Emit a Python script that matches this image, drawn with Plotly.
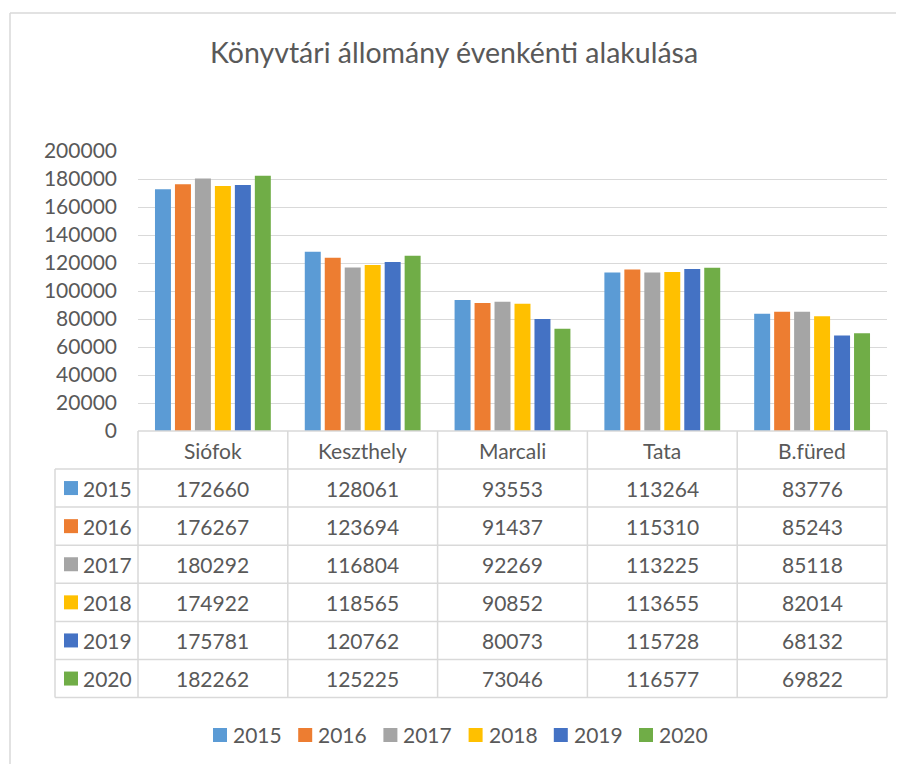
import plotly.graph_objects as go

# ---------------- data ----------------
categories = ["Siófok", "Keszthely", "Marcali", "Tata", "B.füred"]
years = ["2015", "2016", "2017", "2018", "2019", "2020"]
v2015 = [172660, 128061, 93553, 113264, 83776]
v2016 = [176267, 123694, 91437, 115310, 85243]
v2017 = [180292, 116804, 92269, 113225, 85118]
v2018 = [174922, 118565, 90852, 113655, 82014]
v2019 = [175781, 120762, 80073, 115728, 68132]
v2020 = [182262, 125225, 73046, 116577, 69822]
series = [v2015, v2016, v2017, v2018, v2019, v2020]
colors = ["#5B9BD5", "#ED7D31", "#A5A5A5", "#FFC000", "#4472C4", "#70AD47"]
y_ticks = list(range(0, 200001, 20000))
title = "Könyvtári állomány évenkénti alakulása"

# ---------------- layout constants ----------------
OFF = 8                      # page body margin
W, H = 904 - OFF, 764 - OFF
def s(p):
    return p - OFF

PL, PR, PT, PB = s(138), s(887), s(151), s(431)   # plot area
FONT = "Lato"
TXT = "#595959"
GRID = "#D9D9D9"
FS = 21
HEADER_H = 38.0
ROW_H = 38.1
ROWHDR_LEFT = s(55)
LEG_X0, LEG_PITCH, LEG_Y = s(213), 85.2, s(735)

pw = PR - PL
ph = PB - PT

def px2x(px):
    return (px - PL) / pw

def py2y(py):
    return (PB - py) / ph

fig = go.Figure()
x_idx = list(range(len(categories)))
for name, vals, col in zip(years, series, colors):
    fig.add_trace(go.Bar(
        x=x_idx, y=vals, name=name,
        marker=dict(color=col, line=dict(width=0)),
        hoverinfo="x+y+name",
    ))

shapes = []
annotations = []
line_style = dict(color=GRID, width=1.5)

ncat = len(categories)
table_bottom = PB + HEADER_H + ROW_H * len(years)
# horizontal lines
shapes.append(dict(type="line", xref="paper", yref="paper", x0=0, x1=1,
                   y0=py2y(PB), y1=py2y(PB), line=line_style))
for k in range(len(years) + 1):
    yy = PB + HEADER_H + ROW_H * k
    shapes.append(dict(type="line", xref="paper", yref="paper",
                       x0=px2x(ROWHDR_LEFT), x1=1, y0=py2y(yy), y1=py2y(yy),
                       line=line_style))
# vertical lines
shapes.append(dict(type="line", xref="paper", yref="paper",
                   x0=px2x(ROWHDR_LEFT), x1=px2x(ROWHDR_LEFT),
                   y0=py2y(PB + HEADER_H), y1=py2y(table_bottom), line=line_style))
for i in range(ncat + 1):
    xx = i / ncat
    shapes.append(dict(type="line", xref="paper", yref="paper", x0=xx, x1=xx,
                       y0=py2y(PB), y1=py2y(table_bottom), line=line_style))

# header labels
for i, c in enumerate(categories):
    annotations.append(dict(x=i, y=py2y(PB + HEADER_H / 2), xref="x", yref="paper",
                            text=c, showarrow=False, xanchor="center", yanchor="middle",
                            font=dict(family=FONT, size=FS, color=TXT)))
# rows
for k, (name, vals, col) in enumerate(zip(years, series, colors)):
    yc = PB + HEADER_H + ROW_H * k + ROW_H / 2
    shapes.append(dict(type="rect", xref="paper", yref="paper",
                       x0=px2x(s(64)), x1=px2x(s(78)), y0=py2y(yc - 7), y1=py2y(yc + 7),
                       fillcolor=col, line=dict(width=0)))
    annotations.append(dict(x=px2x(s(81)), y=py2y(yc), xref="paper", yref="paper",
                            text=name, showarrow=False, xanchor="left", yanchor="middle",
                            font=dict(family=FONT, size=FS, color=TXT)))
    for i, v in enumerate(vals):
        annotations.append(dict(x=i, y=py2y(yc), xref="x", yref="paper",
                                text=str(v), showarrow=False, xanchor="center",
                                yanchor="middle",
                                font=dict(family=FONT, size=FS, color=TXT)))

# legend (bottom, drawn as keys + labels)
for k, (name, col) in enumerate(zip(years, colors)):
    lx = LEG_X0 + LEG_PITCH * k
    shapes.append(dict(type="rect", xref="paper", yref="paper",
                       x0=px2x(lx), x1=px2x(lx + 14), y0=py2y(LEG_Y - 7),
                       y1=py2y(LEG_Y + 7), fillcolor=col, line=dict(width=0)))
    annotations.append(dict(x=px2x(lx + 18), y=py2y(LEG_Y), xref="paper", yref="paper",
                            text=name, showarrow=False, xanchor="left", yanchor="middle",
                            font=dict(family=FONT, size=FS, color=TXT)))

# chart border (left and top)
shapes.append(dict(type="line", xref="paper", yref="paper",
                   x0=px2x(s(10)), x1=px2x(s(10)), y0=py2y(s(13)), y1=py2y(H + 5),
                   line=line_style))
shapes.append(dict(type="line", xref="paper", yref="paper",
                   x0=px2x(s(10)), x1=px2x(W + 5), y0=py2y(s(13)), y1=py2y(s(13)),
                   line=line_style))

# title
annotations.append(dict(x=px2x(s(454)), y=py2y(s(52)), xref="paper", yref="paper",
                        text=title, showarrow=False, xanchor="center", yanchor="middle",
                        font=dict(family=FONT, size=28.5, color=TXT)))

fig.update_layout(
    width=W, height=H,
    margin=dict(l=PL, r=W - PR, t=PT, b=H - PB, pad=0),
    paper_bgcolor="white", plot_bgcolor="white",
    barmode="group", bargap=0.2, bargroupgap=0.2,
    font=dict(family=FONT, size=FS, color=TXT),
    showlegend=False,
    xaxis=dict(range=[-0.5, ncat - 0.5], showticklabels=False, showgrid=False,
               zeroline=False, showline=False, ticks="", fixedrange=True),
    yaxis=dict(range=[0, 200000], tickvals=y_ticks, ticktext=[str(t) for t in y_ticks],
               showgrid=True, gridcolor=GRID, gridwidth=1, zeroline=False,
               showline=False, ticks="", ticklabelstandoff=20,
               tickfont=dict(family=FONT, size=FS, color=TXT), fixedrange=True),
    shapes=shapes,
    annotations=annotations,
)

fig.write_html("out.html")
